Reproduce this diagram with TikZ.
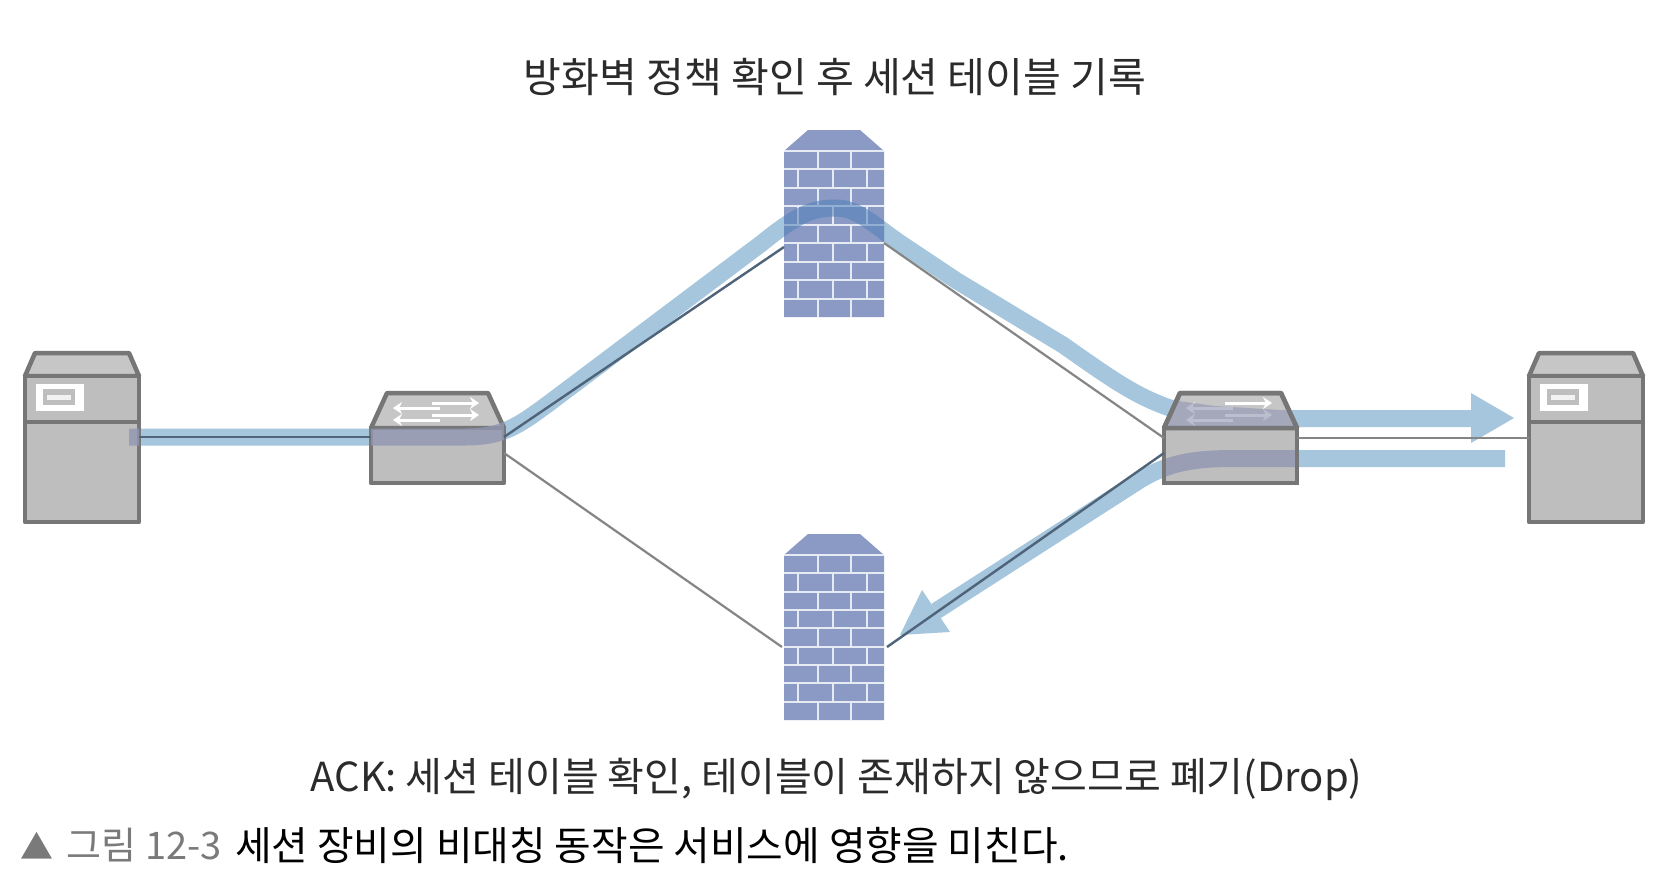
\documentclass[tikz,border=0pt]{standalone}
\usepackage{fontspec}
\setmainfont{Noto Sans CJK KR}
\usetikzlibrary{arrows.meta}
\definecolor{devline}{HTML}{767676}
\definecolor{devfill}{HTML}{BEBEBE}
\definecolor{devtop}{HTML}{C6C6C6}
\definecolor{brick}{HTML}{8A9AC4}
\definecolor{mortar}{HTML}{E6EAF3}
\definecolor{flow}{HTML}{A5C6DC}
\definecolor{flowondev}{HTML}{9197B3}
\definecolor{flowonbrick}{HTML}{4F7FB8}
\definecolor{wirecol}{HTML}{858585}
\definecolor{wiredark}{HTML}{4F6379}
\definecolor{titlecol}{HTML}{2B2B2B}
\definecolor{capgrey}{HTML}{7A7A7A}
\tikzset{
  x=1pt,y=-1pt,
  devshape/.style={draw=devline,line width=4.5pt,fill=devfill,line join=round},
  devtopshape/.style={draw=devline,line width=4.5pt,fill=devtop,line join=round},
  anchorbox/.style={inner sep=0pt,outer sep=0pt,draw=none,fill=none},
  wire/.style={draw=wirecol,line width=2.2pt},
  darkwire/.style={draw=wiredark,line width=2.4pt},
  flowband/.style={line width=17pt,line cap=butt,line join=round},
  labeltext/.style={text=titlecol,inner sep=0pt,anchor=center},
  swarrow/.style={draw=white,line width=3pt,-{Stealth[length=9pt,width=12pt]}},
  mortarline/.style={draw=mortar,line width=2pt},
}
\newcommand\devserver[2]{%
  \begin{scope}[shift={(#2,353)}]
    \draw[devtopshape] (10,0) -- (104,0) -- (114,23) -- (0,23) -- cycle;
    \draw[devshape] (0,23) rectangle (114,169);
    \draw[devline,line width=4.5pt] (0,69) -- (114,69);
    \fill[white] (11,31) rectangle (59,58);
    \fill[devfill] (18,36) rectangle (50,52);
    \fill[white!80!devfill] (22,42) rectangle (46,47);
    \node[anchorbox,minimum width=114pt,minimum height=169pt] (#1) at (57,84.5) {};
  \end{scope}}
\newcommand\devswitch[2]{%
  \begin{scope}[shift={(#2,393)}]
    \draw[devtopshape] (16,0) -- (117,0) -- (133,35) -- (0,35) -- cycle;
    \draw[devshape] (0,35) rectangle (133,90);
    \draw[swarrow] (61,10) -- (108,10);
    \draw[swarrow] (69,15) -- (22,15);
    \draw[swarrow] (61,22) -- (108,22);
    \draw[swarrow] (69,27) -- (22,27);
    \node[anchorbox,minimum width=133pt,minimum height=90pt] (#1) at (66.5,45) {};
  \end{scope}}
\newcommand\devwall[3]{%
  \begin{scope}[shift={(784,#2)}]
    \fill[brick] (0,21) -- (24,0) -- (76,0) -- (100,21) -- (100,#3) -- (0,#3) -- cycle;
    \pgfmathsetmacro{\rowh}{(#3-21)/9}
    \foreach \r in {0,...,8}{
      \pgfmathsetmacro{\ya}{21+\r*\rowh}
      \pgfmathsetmacro{\yb}{21+(\r+1)*\rowh}
      \draw[mortarline] (0,\ya) -- (100,\ya);
      \pgfmathtruncatemacro{\oddrow}{mod(\r,2)}
      \ifnum\oddrow=0
        \foreach \v in {33.5,67}{\draw[mortarline] (\v,\ya) -- (\v,\yb);}
      \else
        \foreach \v in {14,49,83}{\draw[mortarline] (\v,\ya) -- (\v,\yb);}
      \fi
    }
    \node[anchorbox,minimum width=100pt,minimum height=#3pt] (#1) at (50,{#3/2}) {};
  \end{scope}}
\newcommand\flowpaths{%
  (129,437) -- (465,437) .. controls (503,437) and (518,426) .. (548,404) -- (762,243)
    .. controls (800,212) and (815,208) .. (836,208) .. controls (858,208) and (875,226) .. (900,243)
    -- (957,281) -- (1063,345) .. controls (1110,378) and (1135,396) .. (1170,408)
    .. controls (1200,417) and (1225,418.5) .. (1250,418.5) -- (1471,418.5)
  (1505,458.5) -- (1235,458.5) .. controls (1195,458.5) and (1170,462) .. (1140,480) -- (936,611)
}
\newcommand\flowheads{%
  (1471,393) -- (1514,418) -- (1471,443) -- cycle
  (922,590) -- (950,632) -- (900,635) -- cycle
}
\begin{document}
\begin{tikzpicture}
\useasboundingbox (0,0) rectangle (1668,876);
\fill[white] (0,0) rectangle (1668,876);
% flows on white
\draw[flow,flowband] \flowpaths;
\fill[flow] \flowheads;
% devices
\devserver{srvL}{25}
\devserver{srvR}{1529}
\devswitch{swL}{371}
\devswitch{swR}{1164}
\devwall{fwT}{130}{187}
\devwall{fwB}{534}{186}
% flows over devices
\begin{scope}
  \clip (371,393) rectangle (504,483) (1164,428) rectangle (1297,483) (25,376) rectangle (139,522);
  \draw[flowondev,flowband,opacity=.8] \flowpaths;
\end{scope}
\begin{scope}
  \clip (1180,393) -- (1281,393) -- (1297,428) -- (1164,428) -- cycle;
  \fill[flowondev,opacity=.62] (1164,399) -- (1215,406) -- (1297,411) -- (1297,428) -- (1164,428) -- cycle;
\end{scope}
\draw[devline,line width=4.5pt,line join=round] (1180,393) -- (1281,393) -- (1297,428) -- (1164,428) -- cycle;
\draw[devline,line width=4.5pt] (1164,428) rectangle (1297,483);
\begin{scope}
  \clip (784,151) rectangle (884,317);
  \draw[flowonbrick,flowband,opacity=.55] \flowpaths;
\end{scope}
% connector ends
\coordinate (wLup) at (504,437);
\coordinate (wLfw) at (784,247);
\coordinate (wRfw) at (884,243);
\coordinate (wRup) at (1164,438);
\coordinate (wLlow) at (504,453);
\coordinate (wBl) at (782,647);
\coordinate (wBr) at (887,647);
\coordinate (wRlow) at (1164,453);
\coordinate (srvLe) at (139,437);
\coordinate (swLw) at (371,437);
\coordinate (swRe) at (1297,438);
\coordinate (srvRw) at (1529,438);
% connectors
\draw[darkwire] (srvLe) -- (swLw);
\draw[darkwire] (wLup) -- (wLfw);
\draw[wire] (wRfw) -- (wRup);
\draw[wire] (wLlow) -- (wBl);
\draw[darkwire] (wBr) -- (wRlow);
\draw[wire] (swRe) -- (srvRw);
% labels
\node[labeltext,font=\fontsize{41.1}{48}\selectfont] (title) at (835,77) {방화벽 정책 확인 후 세션 테이블 기록};
\node[labeltext,font=\fontsize{40}{48}\selectfont] (ack) at (836.5,779) {ACK: 세션 테이블 확인, 테이블이 존재하지 않으므로 폐기(Drop)};
\node[labeltext,anchor=west,text=capgrey,font=\fontsize{38}{46}\selectfont] (capa) at (20,845) {{\fontsize{33}{46}\selectfont ▲}\hspace{5pt} 그림 12-3};
\node[labeltext,anchor=west,text=black,font=\fontsize{39.8}{46}\selectfont] (capb) at (235,845) {세션 장비의 비대칭 동작은 서비스에 영향을 미친다.};
\end{tikzpicture}
\end{document}
